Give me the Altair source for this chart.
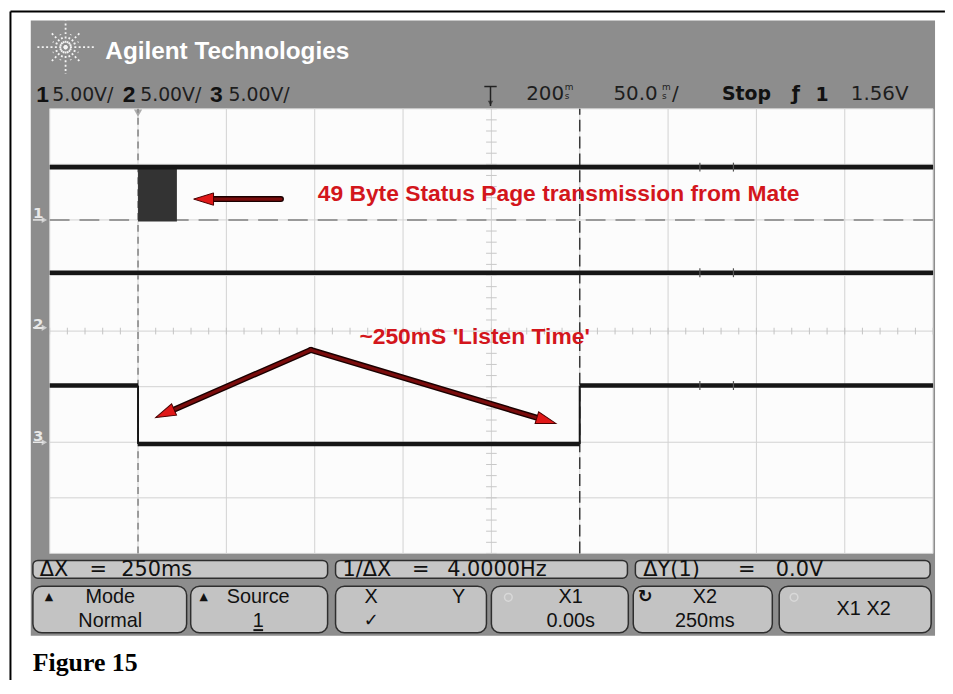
import math
import altair as alt
import pandas as pd

# ---------------- data (time in ms, level in screen divisions) ----------------
t_grid = [-50, 0, 50, 100, 150, 200, 250, 300, 350, 400, 450]   # 50 ms / div
v_grid = [0, 1, 2, 3, 4, 5, 6, 7, 8]
t_minor = list(range(-50, 451, 10))
v_minor = [i / 5 for i in range(0, 41)]

ch1_high = 6.95
ch1_ground = 6.0
ch1_burst = [0, 22]          # ms, 49 byte burst
ch1_burst_low = 5.97
ch2_high = 5.05
ch2_ground = 4.0
ch3_t = [-50, 0, 250, 450]   # segment boundaries
ch3_v = [3.02, 1.97, 3.02]   # level of each segment
ch3_ground = 2.0
glitch_t = [318, 337]

cursor_x1 = 0
cursor_x2 = 250

# annotation arrows: tail -> tip
arrow_tail_x = [80.9, 97.75, 97.75]
arrow_tail_y = [6.375, 3.661, 3.661]
arrow_tip_x = [31.5, 10.1, 236.5]
arrow_tip_y = [6.375, 2.446, 2.339]

note1 = "49 Byte Status Page transmission from Mate"
note2 = "~250mS 'Listen Time'"

# ---------------- layout constants ----------------
W, H = 890, 448
XD, YD = [-50, 450], [0, 8]
PXX = W / (XD[1] - XD[0])
PXY = H / (YD[1] - YD[0])

xs = alt.Scale(domain=XD, nice=False, zero=False)
ys = alt.Scale(domain=YD, nice=False, zero=False)


def X(f="x"):
    return alt.X(f"{f}:Q", scale=xs, axis=None)


def Y(f="y"):
    return alt.Y(f"{f}:Q", scale=ys, axis=None)


def rect(df, **mk):
    return alt.Chart(df).mark_rect(clip=False, **mk).encode(x=X(), x2="x2:Q", y=Y(), y2="y2:Q")


def hrule(df, **mk):
    return alt.Chart(df).mark_rule(clip=False, **mk).encode(x=X(), x2="x2:Q", y=Y())


def vrule(df, **mk):
    return alt.Chart(df).mark_rule(clip=False, **mk).encode(x=X(), y=Y(), y2="y2:Q")


def seg(df, **mk):
    return alt.Chart(df).mark_rule(clip=False, **mk).encode(x=X(), x2="x2:Q", y=Y(), y2="y2:Q")


def text(df, **mk):
    return alt.Chart(df).mark_text(clip=False, **mk).encode(x=X(), y=Y(), text="text:N")


def pts(df, **mk):
    return alt.Chart(df).mark_point(clip=False, **mk).encode(
        x=X(), y=Y(), angle=alt.Angle("a:Q", scale=None))


D = pd.DataFrame
layers = []

# outer figure border (left & top)
layers.append(vrule(D({"x": [-72.2], "y": [9.75], "y2": [-2.4]}), color="#000", strokeWidth=2))
layers.append(hrule(D({"x": [-72.2], "x2": [456.7], "y": [9.75]}), color="#000", strokeWidth=2))

# scope bezel and graticule background
layers.append(rect(D({"x": [-60.7], "x2": [451.1], "y": [9.589], "y2": [-1.482]}), color="#8d8d8d"))
layers.append(rect(D({"x": [XD[0]], "x2": [XD[1]], "y": [YD[0]], "y2": [YD[1]]}), color="#fcfcfc"))

# graticule
layers.append(vrule(D({"x": t_grid, "y": [0] * len(t_grid), "y2": [8] * len(t_grid)}),
                    color="#d2d2d2", strokeWidth=1))
layers.append(hrule(D({"x": [-50] * len(v_grid), "x2": [450] * len(v_grid), "y": v_grid}),
                    color="#d2d2d2", strokeWidth=1))
layers.append(vrule(D({"x": t_minor, "y": [3.94] * len(t_minor), "y2": [4.06] * len(t_minor)}),
                    color="#c4c4c4", strokeWidth=1))
layers.append(hrule(D({"x": [197] * len(v_minor), "x2": [203] * len(v_minor), "y": v_minor}),
                    color="#c8c8c8", strokeWidth=1))

# cursors
layers.append(vrule(D({"x": [cursor_x1], "y": [0], "y2": [8]}), color="#9a9a9a",
                    strokeWidth=2, strokeDash=[7, 5]))
layers.append(vrule(D({"x": [cursor_x2], "y": [0], "y2": [8]}), color="#3a3a3a",
                    strokeWidth=1.5, strokeDash=[12, 5]))
layers.append(hrule(D({"x": [-50], "x2": [450], "y": [ch1_ground]}), color="#808080",
                    strokeWidth=1.5, strokeDash=[20, 10]))
layers.append(pts(D({"x": [cursor_x1], "y": [7.92], "a": [180]}), shape="triangle-up",
                  filled=True, color="#8a8a8a", size=70))

# traces
layers.append(rect(D({"x": [ch1_burst[0]], "x2": [ch1_burst[1]], "y": [ch1_burst_low],
                      "y2": [ch1_high]}), color="#333333"))
layers.append(hrule(D({"x": [-50], "x2": [450], "y": [ch1_high]}), color="#161616", strokeWidth=5))
layers.append(hrule(D({"x": [-50], "x2": [450], "y": [ch2_high]}), color="#161616", strokeWidth=4.5))
layers.append(hrule(D({"x": ch3_t[:-1], "x2": ch3_t[1:], "y": ch3_v}), color="#161616", strokeWidth=4.5))
layers.append(vrule(D({"x": ch3_t[1:-1], "y": [min(ch3_v)] * 2, "y2": [max(ch3_v)] * 2}),
                    color="#161616", strokeWidth=2))
gl = [(t, v) for v in (ch1_high, ch2_high, ch3_v[-1]) for t in glitch_t]
layers.append(vrule(D({"x": [g[0] for g in gl], "y": [g[1] - 0.08 for g in gl],
                       "y2": [g[1] + 0.08 for g in gl]}), color="#555", strokeWidth=1.2))

# ground markers on bezel
gy = [ch1_ground + 0.12, ch2_ground + 0.12, ch3_ground + 0.12]
layers.append(text(D({"x": [-56.5] * 3, "y": gy, "text": ["1", "2", "3"]}),
                   font="DejaVu Sans", fontSize=15, fontWeight="bold", color="#e8e8e8",
                   align="center", baseline="middle"))
layers.append(pts(D({"x": [-53.0] * 3, "y": [ch1_ground, ch2_ground + 0.06, ch3_ground], "a": [90] * 3}),
                  shape="triangle-up", filled=True, color="#e8e8e8", size=40))
layers.append(hrule(D({"x": [-59.5] * 3, "x2": [-53.5] * 3,
                       "y": [ch1_ground, ch2_ground + 0.06, ch3_ground]}), color="#e8e8e8", strokeWidth=1.5))

# annotation arrows
ax, ay, sx, sy, ex, ey, ang = [], [], [], [], [], [], []
for tx0, ty0, tx1, ty1 in zip(arrow_tail_x, arrow_tail_y, arrow_tip_x, arrow_tip_y):
    dx = (tx1 - tx0) * PXX
    dy = -(ty1 - ty0) * PXY
    L = math.hypot(dx, dy)
    ux, uy = dx / L, dy / L
    ang.append((math.degrees(math.atan2(ux, -uy)) + 360) % 360)
    ax.append(tx1 - 10 * ux / PXX)
    ay.append(ty1 + 10 * uy / PXY)
    sx.append(tx0)
    sy.append(ty0)
    ex.append(tx1 - 14 * ux / PXX)
    ey.append(ty1 + 14 * uy / PXY)
shaft = D({"x": sx, "y": sy, "x2": ex, "y2": ey})
layers.append(seg(shaft, color="#1a0000", strokeWidth=6, strokeCap="round"))
layers.append(seg(shaft, color="#7a0c0c", strokeWidth=3.2, strokeCap="round"))
layers.append(pts(D({"x": ax, "y": ay, "a": ang}), shape="M0,-1L0.62,1L-0.62,1Z",
                  filled=True, fill="#e01818", stroke="#4a0000", strokeWidth=1, size=400, opacity=1))

layers.append(text(D({"x": [101.7], "y": [6.46], "text": [note1]}), font="Liberation Sans",
                   fontSize=23, fontWeight="bold", color="#d3161c", align="left", baseline="middle"))
layers.append(text(D({"x": [125.3], "y": [3.9], "text": [note2]}), font="Liberation Sans",
                   fontSize=23, fontWeight="bold", color="#d3161c", align="left", baseline="middle"))

# header
layers.append(text(D({"x": [-18.5], "y": [8.893], "text": ["Agilent Technologies"]}),
                   font="Liberation Sans", fontSize=24.5, fontWeight="bold", color="#ffffff",
                   align="left", baseline="alphabetic"))
logo_ang = [0, 45, 90, 135, 180, 225, 270, 315, 22.5, 67.5, 112.5, 157.5, 202.5, 247.5, 292.5, 337.5]
logo_len = [30, 21, 27, 21, 30, 21, 27, 21, 14, 14, 14, 14, 14, 14, 14, 14]
lcx, lcy = -41.0, 9.107
layers.append(seg(D({"x": [lcx] * len(logo_ang),
                     "y": [lcy] * len(logo_ang),
                     "x2": [lcx + l * math.cos(math.radians(a)) / PXX for a, l in zip(logo_ang, logo_len)],
                     "y2": [lcy + l * math.sin(math.radians(a)) / PXY for a, l in zip(logo_ang, logo_len)]}),
                  color="#f4f4f4", strokeWidth=1.8, strokeDash=[2, 2.4]))

layers.append(text(D({"x": [-57.6, -8.6, 40.8], "y": [8.125] * 3, "text": ["1", "2", "3"]}),
                   font="Liberation Sans", fontSize=23, fontWeight="bold", color="#111",
                   align="left", baseline="alphabetic"))
layers.append(text(D({"x": [-48.6, 1.2, 51.2], "y": [8.14] * 3, "text": ["5.00V/"] * 3}),
                   font="DejaVu Sans", fontSize=19, color="#1e1e1e", align="left", baseline="alphabetic"))
layers.append(text(D({"x": [219.7, 269.1, 403.4], "y": [8.16] * 3, "text": ["200", "50.0", "1.56V"]}),
                   font="DejaVu Sans", fontSize=20, color="#1e1e1e", align="left", baseline="alphabetic"))
layers.append(text(D({"x": [241.5, 241.5, 296.5, 296.5], "y": [8.33, 8.18, 8.33, 8.18],
                      "text": ["m", "s", "m", "s"]}),
                   font="DejaVu Sans", fontSize=9, color="#1e1e1e", align="left", baseline="alphabetic"))
layers.append(text(D({"x": [302.2], "y": [8.16], "text": ["/"]}),
                   font="DejaVu Sans", fontSize=20, color="#1e1e1e", align="left", baseline="alphabetic"))
layers.append(text(D({"x": [330.5, 370.0, 383.5], "y": [8.16, 8.16, 8.14], "text": ["Stop", "ƒ", "1"]}),
                   font="DejaVu Sans", fontSize=19, fontWeight="bold", color="#111",
                   align="left", baseline="alphabetic"))
layers.append(hrule(D({"x": [196], "x2": [203], "y": [8.4]}), color="#222", strokeWidth=1.5))
layers.append(vrule(D({"x": [199.5], "y": [8.05], "y2": [8.4]}), color="#222", strokeWidth=1.5))
layers.append(pts(D({"x": [199.5], "y": [8.1], "a": [180]}), shape="triangle-up",
                  filled=True, color="#222", size=30))

# softkey / status bar
bar = D({"x": [-59.5, 111.8, 281.5], "x2": [107.3, 277.0, 448.3],
         "y": [-0.125] * 3, "y2": [-0.446] * 3})
layers.append(rect(bar, fill="#c6c6c6", stroke="#2e2e2e", strokeWidth=1.5, cornerRadius=5))
layers.append(text(D({"x": [-55.6, -9.5, 115.7, 175.0, 286.0, 361.0], "y": [-0.29] * 6,
                      "text": ["ΔX", "250ms", "1/ΔX", "4.0000Hz", "ΔY(1)", "0.0V"]}),
                   font="DejaVu Sans", fontSize=21, color="#111", align="left", baseline="middle"))
layers.append(text(D({"x": [-22.5, 160.0, 344.5], "y": [-0.29] * 3, "text": ["=", "=", "="]}),
                   font="DejaVu Sans", fontSize=21, color="#111", align="center", baseline="middle"))
keys = D({"x": [-59.5, 29.8, 111.8, 200.0, 280.3, 362.9],
          "x2": [27.5, 107.3, 197.2, 277.5, 359.0, 448.9],
          "y": [-0.589] * 6, "y2": [-1.429] * 6})
layers.append(rect(keys, fill="#c3c3c3", stroke="#2e2e2e", strokeWidth=1.5, cornerRadius=9))
layers.append(text(D({"x": [-15.7, 68.0, 132.0, 181.5, 244.9, 320.8, -15.7, 68.0, 244.9, 320.8, 410.7],
                      "y": [-0.79] * 6 + [-1.21] * 4 + [-1.0],
                      "text": ["Mode", "Source", "X", "Y", "X1", "X2", "Normal", "1", "0.00s", "250ms",
                               "X1  X2"]}),
                   font="Liberation Sans", fontSize=20, color="#111", align="center", baseline="middle"))
layers.append(text(D({"x": [-52.8, 34.8], "y": [-0.79] * 2, "text": ["▲", "▲"]}),
                   font="DejaVu Sans", fontSize=11, color="#111", align="left", baseline="middle"))
layers.append(text(D({"x": [132.0, 287.1], "y": [-1.21, -0.79], "text": ["✓", "↻"]}),
                   font="DejaVu Sans", fontSize=18, fontWeight="bold", color="#111",
                   align="center", baseline="middle"))
layers.append(hrule(D({"x": [65.3], "x2": [70.8], "y": [-1.38]}), color="#111", strokeWidth=2))
layers.append(pts(D({"x": [209.6, 371.3], "y": [-0.79] * 2, "a": [0, 0]}), shape="circle",
                  filled=False, color="#e2e2e2", strokeWidth=1.5, size=60))

# caption
layers.append(text(D({"x": [-59.6], "y": [-2.107], "text": ["Figure 15"]}),
                   font="Liberation Serif", fontSize=26, fontWeight="bold", color="#000",
                   align="left", baseline="alphabetic"))

chart = alt.layer(*layers).properties(
    width=W, height=H,
    padding={"left": 42, "top": 99, "right": 12, "bottom": 125},
    autosize=alt.AutoSizeParams(type="none"),
    background="white",
).configure_view(stroke=None)

chart.save("out.html", embed_options={"renderer": "svg", "actions": False})
